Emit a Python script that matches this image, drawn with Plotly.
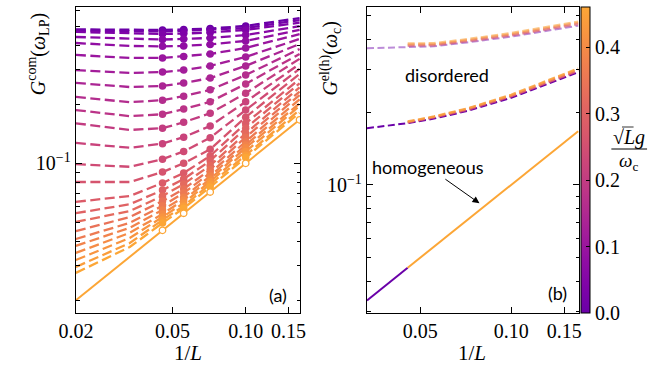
import plotly.graph_objects as go
from plotly.colors import sample_colorscale
import math

# ---------------- data: panel (a) ----------------
L_a = [50, 30, 22, 18, 14, 10, 6]          # system sizes of the dashed curves
L_marked = [22, 18, 14, 10]                 # sizes that carry filled markers
g_a = [0.00, 0.02, 0.04, 0.06, 0.08, 0.10, 0.12, 0.14, 0.16, 0.18, 0.20, 0.22,
       0.24, 0.26, 0.28, 0.30, 0.32, 0.34, 0.36, 0.38, 0.40, 0.42, 0.44, 0.46]

gcom_00 = [0.482, 0.479, 0.479, 0.482, 0.487, 0.502, 0.551]
gcom_01 = [0.476, 0.471, 0.471, 0.474, 0.479, 0.490, 0.538]
gcom_02 = [0.468, 0.459, 0.457, 0.459, 0.465, 0.479, 0.522]
gcom_03 = [0.441, 0.431, 0.428, 0.431, 0.436, 0.451, 0.501]
gcom_04 = [0.411, 0.397, 0.395, 0.397, 0.404, 0.421, 0.479]
gcom_05 = [0.357, 0.345, 0.345, 0.351, 0.361, 0.388, 0.456]
gcom_06 = [0.299, 0.289, 0.292, 0.299, 0.314, 0.349, 0.431]
gcom_07 = [0.257, 0.245, 0.248, 0.257, 0.272, 0.314, 0.406]
gcom_08 = [0.218, 0.205, 0.210, 0.220, 0.237, 0.282, 0.383]
gcom_09 = [0.187, 0.174, 0.178, 0.189, 0.206, 0.254, 0.361]
gcom_10 = [0.160, 0.148, 0.151, 0.162, 0.180, 0.228, 0.341]
gcom_11 = [0.127, 0.120, 0.126, 0.136, 0.155, 0.206, 0.321]
gcom_12 = [0.099, 0.096, 0.105, 0.115, 0.135, 0.187, 0.303]
gcom_13 = [0.0803, 0.0803, 0.0902, 0.100, 0.118, 0.172, 0.286]
gcom_14 = [0.0636, 0.0681, 0.0794, 0.0892, 0.109, 0.160, 0.269]
gcom_15 = [0.0557, 0.0618, 0.0730, 0.0832, 0.103, 0.151, 0.256]
gcom_16 = [0.0502, 0.0571, 0.0681, 0.0784, 0.0975, 0.142, 0.244]
gcom_17 = [0.0451, 0.0532, 0.0642, 0.0739, 0.0929, 0.136, 0.232]
gcom_18 = [0.0411, 0.0497, 0.0607, 0.0705, 0.0892, 0.129, 0.223]
gcom_19 = [0.0379, 0.0469, 0.0578, 0.0672, 0.0861, 0.124, 0.212]
gcom_20 = [0.0349, 0.0442, 0.0551, 0.0650, 0.0832, 0.120, 0.202]
gcom_21 = [0.0321, 0.0416, 0.0532, 0.0627, 0.0808, 0.115, 0.196]
gcom_22 = [0.0296, 0.0392, 0.0514, 0.0605, 0.0784, 0.110, 0.187]
gcom_23 = [0.0276, 0.0374, 0.0496, 0.0590, 0.0757, 0.107, 0.181]
gcom_curves = [gcom_00, gcom_01, gcom_02, gcom_03, gcom_04, gcom_05, gcom_06, gcom_07,
               gcom_08, gcom_09, gcom_10, gcom_11, gcom_12, gcom_13, gcom_14, gcom_15,
               gcom_16, gcom_17, gcom_18, gcom_19, gcom_20, gcom_21, gcom_22, gcom_23]

hom_a = [0.0200, 0.0333, 0.0455, 0.0556, 0.0714, 0.1000, 0.1667]
L_hom_marked = [22, 18, 14, 10, 6]
hom_a_marked = [0.0455, 0.0556, 0.0714, 0.1000, 0.1667]

# ---------------- data: panel (b) ----------------
L_b = [30, 22, 18, 14, 10, 6]
L_b_strong = [22, 18, 14, 10, 6]
g_b = [0.25, 0.35, 0.45]
gel_up_g0 = [0.367, 0.372, 0.374, 0.388, 0.410, 0.455]
gel_up_g25 = [0.376, 0.378, 0.392, 0.415, 0.462]
gel_up_g35 = [0.380, 0.381, 0.396, 0.419, 0.467]
gel_up_g45 = [0.384, 0.385, 0.400, 0.424, 0.473]
gel_lo_g0 = [0.1716, 0.180, 0.188, 0.202, 0.229, 0.292]
gel_lo_g25 = [0.181, 0.190, 0.204, 0.232, 0.296]
gel_lo_g35 = [0.182, 0.191, 0.206, 0.234, 0.300]
gel_lo_g45 = [0.183, 0.192, 0.207, 0.236, 0.303]
L_hom_b_weak = [30, 22]
hom_b_weak = [0.0333, 0.0455]
hom_b_strong = [0.0455, 0.0556, 0.0714, 0.1000, 0.1667]

g_max = 0.46
cbar_ticks = [0.0, 0.1, 0.2, 0.3, 0.4]

# ---------------- styling ----------------
W, H = 654, 365
plasma_sub = [[0.0, '#6a00a8'], [0.0833, '#7e03a8'], [0.1667, '#8f0da4'], [0.25, '#a11b9b'],
              [0.3333, '#b12a90'], [0.4167, '#bf3984'], [0.5, '#cc4778'], [0.5833, '#d8576b'],
              [0.6667, '#e16462'], [0.75, '#ea7457'], [0.8333, '#f2844b'], [0.9167, '#f89540'],
              [1.0, '#fca636']]


def col(g):
    return sample_colorscale(plasma_sub, [min(max(g / g_max, 0), 1)])[0]


SERIF = 'Liberation Serif'
SANS = 'Lato'
ORANGE = col(g_max)

fig = go.Figure()

# panel (a) dashed curves
for g, ys in zip(g_a, gcom_curves):
    fig.add_trace(go.Scatter(x=[1 / L for L in L_a], y=ys, mode='lines',
                             line=dict(color=col(g), width=2.3, dash='10px,4.5px'),
                             xaxis='x', yaxis='y', showlegend=False, hoverinfo='skip'))
for g, ys in zip(g_a, gcom_curves):
    ym = [ys[L_a.index(L)] for L in L_marked]
    fig.add_trace(go.Scatter(x=[1 / L for L in L_marked], y=ym, mode='markers',
                             marker=dict(color=col(g), size=7.5, line=dict(width=0)),
                             xaxis='x', yaxis='y', showlegend=False, hoverinfo='skip'))
fig.add_trace(go.Scatter(x=[1 / L for L in L_a], y=hom_a, mode='lines',
                         line=dict(color=ORANGE, width=2),
                         xaxis='x', yaxis='y', showlegend=False, hoverinfo='skip'))
fig.add_trace(go.Scatter(x=[1 / L for L in L_hom_marked], y=hom_a_marked, mode='markers',
                         marker=dict(color='white', size=6.5, line=dict(color=ORANGE, width=1.3)),
                         xaxis='x', yaxis='y', showlegend=False, hoverinfo='skip', cliponaxis=True))


# panel (b)
def add_b(xL, ys, g, opacity=1.0, width=2.0):
    fig.add_trace(go.Scatter(x=[1 / L for L in xL], y=ys, mode='lines', opacity=opacity,
                             line=dict(color=col(g), width=width, dash='7px,3.5px'),
                             xaxis='x2', yaxis='y2', showlegend=False, hoverinfo='skip'))


add_b(L_b, gel_up_g0, 0.0, opacity=0.45)
for g, ys in zip(g_b, [gel_up_g25, gel_up_g35, gel_up_g45]):
    add_b(L_b_strong, ys, g, opacity=0.6, width=2.4)
add_b(L_b, gel_lo_g0, 0.0)
for g, ys in zip(g_b, [gel_lo_g25, gel_lo_g35, gel_lo_g45]):
    add_b(L_b_strong, ys, g, opacity=0.85, width=2.2)

fig.add_trace(go.Scatter(x=[1 / L for L in L_hom_b_weak], y=hom_b_weak, mode='lines',
                         line=dict(color=col(0.0), width=2),
                         xaxis='x2', yaxis='y2', showlegend=False, hoverinfo='skip'))
fig.add_trace(go.Scatter(x=[1 / L for L in L_b_strong], y=hom_b_strong, mode='lines',
                         line=dict(color=ORANGE, width=2),
                         xaxis='x2', yaxis='y2', showlegend=False, hoverinfo='skip'))

# colorbar carrier
fig.add_trace(go.Scatter(x=[0.1], y=[0.1], mode='markers', xaxis='x2', yaxis='y2',
                         marker=dict(color=[0.2], cmin=0, cmax=g_max, colorscale=plasma_sub,
                                     size=1, opacity=0, showscale=True,
                                     colorbar=dict(thickness=9, thicknessmode='pixels',
                                                   len=306 / H, lenmode='fraction',
                                                   x=584 / W, xanchor='left',
                                                   y=1 - 7.3 / H, yanchor='top',
                                                   outlinewidth=1, outlinecolor='black',
                                                   tickvals=cbar_ticks,
                                                   ticktext=['%.1f' % t for t in cbar_ticks],
                                                   ticks='inside', ticklen=4, tickcolor='black',
                                                   tickfont=dict(family=SERIF, size=20, color='black'),
                                                   xpad=0, ypad=0)),
                         showlegend=False, hoverinfo='skip'))

ydomain = [1 - 313.3 / H, 1 - 7.3 / H]
axis_common = dict(type='log', showline=True, linecolor='black', linewidth=1.3, mirror='ticks',
                   ticks='inside', ticklen=6, tickwidth=1, tickcolor='black', showgrid=False,
                   zeroline=False, tickfont=dict(family=SERIF, size=20, color='black'))
minor_y = dict(tickvals=[0.02, 0.03, 0.04, 0.05, 0.06, 0.07, 0.08, 0.09, 0.2, 0.3, 0.4, 0.5, 0.6],
               ticks='inside', ticklen=3.5, tickwidth=1, tickcolor='black', showgrid=False)

fig.update_layout(
    width=W, height=H, margin=dict(l=0, r=0, t=0, b=0),
    paper_bgcolor='white', plot_bgcolor='white',
    xaxis=dict(axis_common, domain=[60 / W, 292.7 / W], anchor='y',
               range=[math.log10(0.02), math.log10(0.168)],
               tickvals=[0.02, 0.05, 0.1, 0.15], ticktext=['0.02', '0.05', '0.10', '0.15']),
    yaxis=dict(axis_common, domain=ydomain, anchor='x',
               range=[math.log10(0.01717), math.log10(0.625)],
               tickvals=[0.1], ticktext=['10<sup>\u22121</sup>'], minor=minor_y),
    xaxis2=dict(axis_common, domain=[361.7 / W, 581.7 / W], anchor='y2',
                range=[math.log10(1 / 30), math.log10(0.168)],
                tickvals=[0.05, 0.1, 0.15], ticktext=['0.05', '0.10', '0.15']),
    yaxis2=dict(axis_common, domain=ydomain, anchor='x2',
                range=[math.log10(0.0295), math.log10(0.542)],
                tickvals=[0.1], ticktext=['10<sup>\u22121</sup>'], minor=minor_y),
)


def px(x):
    return x / W


def py(y):
    return 1 - y / H


ann = []
# axis titles
ann.append(dict(text='<i>G</i><sup>com</sup>(<i>\u03c9</i><sub>LP</sub>)', x=px(21), y=py(54),
                textangle=-90, font=dict(family=SERIF, size=20)))
ann.append(dict(text='<i>G</i><sup>el(h)</sup>(<i>\u03c9</i><sub>c</sub>)', x=px(324), y=py(58),
                textangle=-90, font=dict(family=SERIF, size=20)))
ann.append(dict(text='1/<i>L</i>', x=px(176), y=py(353), font=dict(family=SERIF, size=21)))
ann.append(dict(text='1/<i>L</i>', x=px(471), y=py(353), font=dict(family=SERIF, size=21)))
# panel labels and texts
ann.append(dict(text='(a)', x=px(269), y=py(295), font=dict(family=SANS, size=18)))
ann.append(dict(text='(b)', x=px(559), y=py(293), font=dict(family=SANS, size=18)))
ann.append(dict(text='disordered', x=px(445), y=py(75), font=dict(family=SANS, size=18)))
ann.append(dict(text='homogeneous', x=px(478.3), y=py(203.3), ax=426.5 - 478.3, ay=166.7 - 203.3,
                axref='pixel', ayref='pixel', showarrow=True, arrowhead=2, arrowsize=1.4,
                arrowwidth=1, arrowcolor='black', standoff=0,
                font=dict(family=SANS, size=18)))
# colorbar label (fraction)
ann.append(dict(text='\u221a<i>L</i><i>g</i>', x=px(633), y=py(137), font=dict(family=SERIF, size=20)))
ann.append(dict(text='<i>\u03c9</i><sub>c</sub>', x=px(633), y=py(162), font=dict(family=SERIF, size=19)))
for a in ann:
    a.setdefault('xref', 'paper')
    a.setdefault('yref', 'paper')
    a.setdefault('showarrow', False)
    a.setdefault('xanchor', 'center')
    a.setdefault('yanchor', 'middle')
    a['font'].setdefault('color', 'black')
fig.update_layout(annotations=ann)

fig.update_layout(shapes=[
    dict(type='line', xref='paper', yref='paper', x0=px(615), x1=px(652), y0=py(149), y1=py(149),
         line=dict(color='black', width=1)),
    dict(type='line', xref='paper', yref='paper', x0=px(626), x1=px(638), y0=py(127), y1=py(127),
         line=dict(color='black', width=0.8)),
])

fig.write_html('out.html')
